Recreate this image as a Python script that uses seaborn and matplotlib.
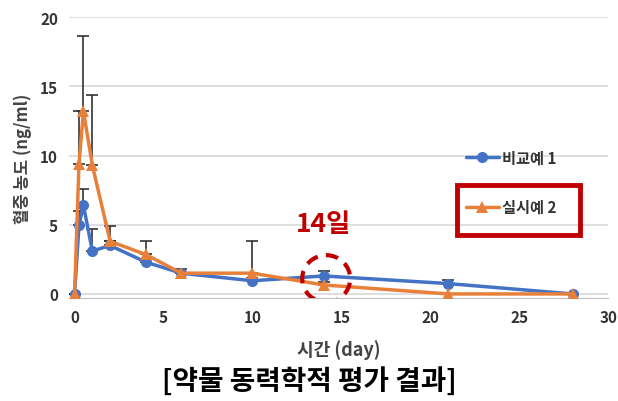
import matplotlib.pyplot as plt
import matplotlib.patches as mpatches
import pandas as pd
import seaborn as sns

# data
days = [0, 0.25, 0.5, 1, 2, 4, 6, 10, 14, 21, 28]
comp1 = [0, 5.0, 6.4, 3.1, 3.5, 2.3, 1.5, 0.95, 1.3, 0.75, 0]
comp1_err = [0, 1.0, 1.2, 1.6, 0.3, 0.2, 0.1, 0.2, 0.35, 0.25, 0]
ex2 = [0, 9.4, 13.2, 9.3, 3.8, 2.85, 1.5, 1.5, 0.65, 0, 0]
ex2_err = [0, 3.8, 5.4, 5.1, 1.1, 1.0, 0.3, 2.3, 0.2, 0, 0]
series = ['비교예 1', '실시예 2']
colors = ['#4472C4', '#E8803A']

sns.set_style('white')
plt.rcParams['font.family'] = ['Noto Sans CJK KR', 'DejaVu Sans']

df = pd.concat([
    pd.DataFrame({'day': days, 'conc': comp1, 'group': series[0]}),
    pd.DataFrame({'day': days, 'conc': ex2, 'group': series[1]}),
])

fig = plt.figure(figsize=(6.18, 4.02), dpi=100)
ax = fig.add_axes([0.112, 0.256, 0.872, 0.699])

# error bars first (upper only, dark)
for y, e in [(comp1, comp1_err), (ex2, ex2_err)]:
    ax.errorbar(days, y, yerr=[[0] * len(e), e], fmt='none', ecolor='#333333',
                elinewidth=1.2, capsize=4, capthick=1.2, zorder=2)

sns.lineplot(data=df, x='day', y='conc', hue='group', style='group',
             markers={series[0]: 'o', series[1]: '^'}, dashes=False,
             palette=colors, linewidth=2.5, markersize=8, markeredgewidth=0,
             ax=ax, zorder=3)

ax.set_xlim(-0.3, 30)
ax.set_ylim(-0.3, 20)
ax.set_xticks(range(0, 31, 5))
ax.set_yticks(range(0, 21, 5))
ax.grid(axis='y', color='#D9D9D9', linewidth=1.2)
for s in ['top', 'right', 'left']:
    ax.spines[s].set_visible(False)
ax.spines['bottom'].set_color('#BFBFBF')
ax.tick_params(length=0, labelsize=11, labelcolor='#333333', pad=8)
for lab in ax.get_xticklabels() + ax.get_yticklabels():
    lab.set_fontweight('bold')

ax.set_xlabel('시간 (day)', fontsize=13, fontweight='bold', color='#444444', labelpad=10)
ax.set_ylabel('혈중 농도 (ng/ml)', fontsize=12, fontweight='bold', color='#444444', labelpad=6)

leg = ax.legend(loc='upper left', bbox_to_anchor=(0.71, 0.578), frameon=False,
                fontsize=11, handlelength=2.2, labelspacing=2.2, handletextpad=0.2)
for t in leg.get_texts():
    t.set_fontweight('bold')
    t.set_color('#333333')

# annotations
ax.text(14.0, 4.55, '14일', color='#C00000', fontsize=19, fontweight='bold', ha='center')
circ = mpatches.Ellipse((14.15, 1.1), 2.7, 3.4, fill=False, edgecolor='#C00000',
                        linewidth=3, linestyle=(0, (3, 2)), zorder=5)
ax.add_patch(circ)
rect = mpatches.Rectangle((457 / 618, 1 - 236 / 402), 123 / 618, 50 / 402,
                          transform=fig.transFigure, fill=False,
                          edgecolor='#C00000', linewidth=3.5)
fig.patches.append(rect)

fig.text(0.5, 0.03, '[약물 동력학적 평가 결과]', ha='center', fontsize=20,
         fontweight='bold', color='black')

fig.savefig('out.png', dpi=100)
